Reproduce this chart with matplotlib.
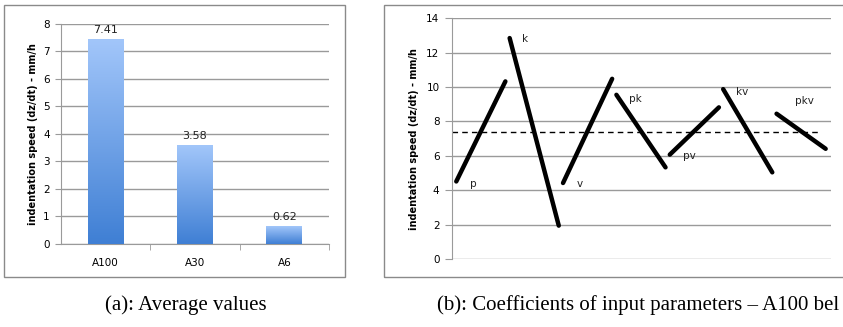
import numpy as np
import matplotlib
matplotlib.use("Agg")
import matplotlib.pyplot as plt
from matplotlib.colors import LinearSegmentedColormap
from matplotlib.patches import Rectangle

# (a) average values
alloys = ["A100", "A30", "A6"]
avg_speed = [7.41, 3.58, 0.62]

# (b) coefficients of input parameters - A100
params = ["p", "k", "v", "pk", "pv", "kv", "pkv"]
level_low = [4.51, 12.85, 4.42, 9.55, 6.07, 9.88, 8.45]   # value at start of segment
level_high = [10.33, 1.94, 10.48, 5.33, 8.82, 5.04, 6.41]  # value at end of segment
a100_mean = 7.41

W, H = 843, 327
fig = plt.figure(figsize=(W / 100, H / 100), dpi=100)
plt.rcParams['font.family'] = ['DejaVu Sans']

grid_c = "#9a9a9a"


def px_axes(x0, y0, x1, y1):
    return fig.add_axes([x0 / W, 1 - y1 / H, (x1 - x0) / W, (y1 - y0) / H])


# outer frames
for (x0, y0, x1, y1) in [(4, 5, 345, 277), (384, 5, 846, 277)]:
    fig.patches.append(Rectangle((x0 / W, 1 - y1 / H), (x1 - x0) / W, (y1 - y0) / H,
                                 transform=fig.transFigure, fill=False,
                                 edgecolor="#8a8a8a", linewidth=1.0))

# ---------- left chart
ax1 = px_axes(61, 23.5, 329, 244)
xpos = np.arange(len(alloys))
bars = ax1.bar(xpos, avg_speed, width=0.4, color="none", zorder=3)
cmap = LinearSegmentedColormap.from_list("blu", ["#3f7fd4", "#a2c6fa"])
grad = np.linspace(0, 1, 256).reshape(-1, 1)
for b, v in zip(bars, avg_speed):
    x0 = b.get_x()
    ax1.imshow(grad, extent=[x0, x0 + b.get_width(), 0, b.get_height()],
               origin="lower", aspect="auto", cmap=cmap, zorder=3)
    ax1.text(b.get_x() + b.get_width() / 2, v + 0.17, f"{v:.2f}",
             ha="center", va="bottom", fontsize=8, color="#222222", zorder=4)
ax1.set_xlim(-0.5, 2.5)
ax1.set_ylim(0, 8)
ax1.set_yticks(range(0, 9))
ax1.set_xticks([0.5, 1.5, 2.5], minor=True)
ax1.set_xticks(xpos)
ax1.set_xticklabels(alloys)
ax1.yaxis.grid(True, color=grid_c, linewidth=1.0, zorder=0)
ax1.set_axisbelow(True)
for s in ["top", "right"]:
    ax1.spines[s].set_visible(False)
for s in ["left", "bottom"]:
    ax1.spines[s].set_color(grid_c)
ax1.tick_params(axis="y", length=4, color=grid_c, labelsize=7.5, pad=4)
ax1.tick_params(axis="x", which="major", length=0, labelsize=7.5, pad=10)
ax1.tick_params(axis="x", which="minor", length=4, color=grid_c)
ax1.set_ylabel("indentation speed (dz/dt) - mm/h", fontsize=7, fontweight="bold", labelpad=4)

# ---------- right chart
ax2 = px_axes(452, 18.3, 831, 259)
for i, (name, lo, hi) in enumerate(zip(params, level_low, level_high)):
    ax2.plot([i, i + 0.92], [lo, hi], color="black", linewidth=3.2,
             solid_capstyle="round", zorder=3)
offsets = [(12, -2), (11, -1), (12, -1), (14, -3), (14, -1), (14, -2), (20, 9)]
for i, (name, lo) in enumerate(zip(params, level_low)):
    ax2.annotate(name, (i, lo), xytext=offsets[i], textcoords="offset points",
                 ha="center", va="center", fontsize=7.5, color="#222222")
ax2.axhline(a100_mean, xmin=0, xmax=0.97, color="black", linewidth=1.0,
            linestyle=(0, (4, 3)), zorder=2)
ax2.set_xlim(-0.08, 7.02)
ax2.set_ylim(0, 14)
ax2.set_yticks(range(0, 15, 2))
ax2.set_xticks([])
ax2.yaxis.grid(True, color=grid_c, linewidth=1.0, zorder=0)
ax2.set_axisbelow(True)
for s in ["top", "right", "bottom"]:
    ax2.spines[s].set_visible(False)
ax2.spines["left"].set_color(grid_c)
ax2.tick_params(axis="y", length=5, color=grid_c, labelsize=7.5, pad=4)
ax2.set_ylabel("indentation speed (dz/dt) - mm/h", fontsize=7, fontweight="bold", labelpad=5)

# captions
fig.text(186 / W, 1 - 305 / H, "(a): Average values", ha="center", va="center",
         fontsize=15, family="Liberation Serif")
fig.text(437 / W, 1 - 305 / H, "(b): Coefficients of input parameters \u2013 A100 bel",
         ha="left", va="center", fontsize=15, family="Liberation Serif")

fig.savefig("out.png", dpi=100)
